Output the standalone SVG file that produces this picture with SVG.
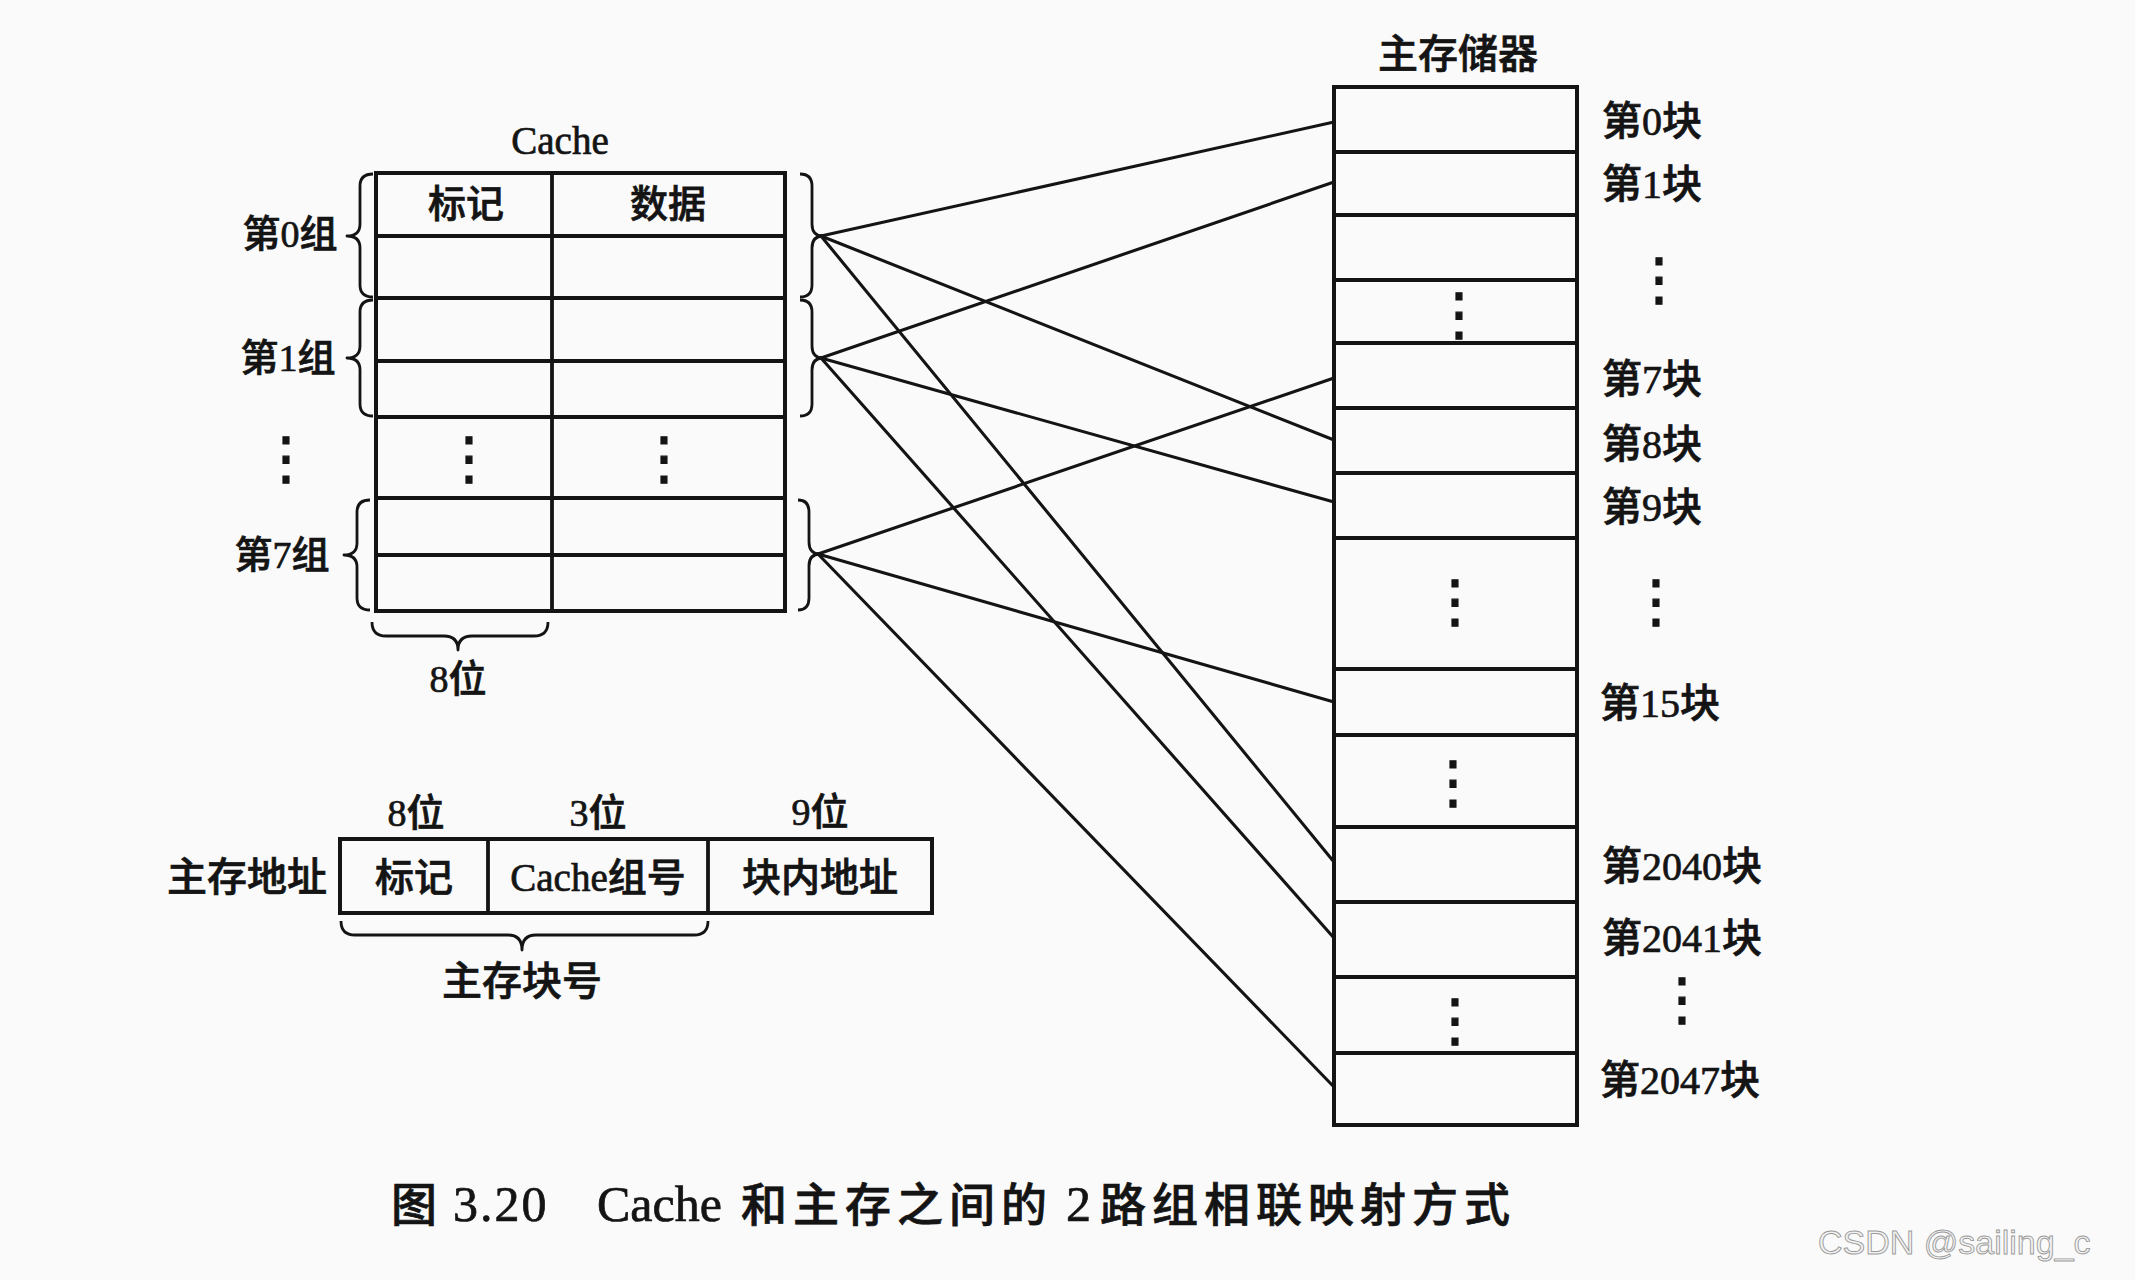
<svg xmlns="http://www.w3.org/2000/svg" width="2135" height="1280" viewBox="0 0 2135 1280">
<style>
  .t { font-family: "Liberation Serif", "Noto Sans CJK SC", serif; fill: #141414; font-weight: 500; stroke: #141414; stroke-width: 0.7; }
  .c { text-anchor: middle; dominant-baseline: central; }
  .l { text-anchor: start; dominant-baseline: central; }
  .box { fill: none; stroke: #141414; stroke-width: 4; }
  .grid { stroke: #141414; stroke-width: 3.8; fill: none; }
  .brace { fill: none; stroke: #141414; stroke-width: 2.8; stroke-linejoin: round; }
  .conn { stroke: #141414; stroke-width: 3.1; fill: none; stroke-linecap: round; }
  .dots { font-family: "DejaVu Sans", sans-serif; font-size: 58px; fill: #141414; stroke: #141414; stroke-width: 1.2; text-anchor: middle; dominant-baseline: central; }
</style>
<rect width="2135" height="1280" fill="#fafafa"/>

<g id="cache">
  <text class="t c" x="560" y="140" font-size="39">Cache</text>
  <rect class="box" x="376" y="173" width="409" height="438"/>
  <path class="grid" d="M552,173 V611 M376,236 H785 M376,298 H785 M376,361 H785 M376,417 H785 M376,498 H785 M376,555 H785"/>
  <text class="t c" x="466" y="204" font-size="38">标记</text>
  <text class="t c" x="668" y="204" font-size="38">数据</text>
  <text class="dots" x="469" y="458">⋮</text>
  <text class="dots" x="664" y="458">⋮</text>
  <text class="dots" x="286" y="458">⋮</text>
  <path class="brace" d="M373,174 Q360,174 360,186 L360,224 Q360,236 347,236 Q360,236 360,248 L360,285 Q360,297 373,297"/>
  <path class="brace" d="M373,300 Q360,300 360,312 L360,346 Q360,358 347,358 Q360,358 360,370 L360,404 Q360,416 373,416"/>
  <path class="brace" d="M370,500 Q357,500 357,512 L357,543 Q357,555 344,555 Q357,555 357,567 L357,598 Q357,610 370,610"/>
  <path class="brace" d="M800,174 Q812,174 812,186 L812,224 Q812,236 823,236 Q812,236 812,248 L812,285 Q812,297 800,297"/>
  <path class="brace" d="M800,300 Q812,300 812,312 L812,346 Q812,358 823,358 Q812,358 812,370 L812,404 Q812,416 800,416"/>
  <path class="brace" d="M798,500 Q809,500 809,512 L809,542 Q809,554 820,554 Q809,554 809,566 L809,598 Q809,610 798,610"/>
  <text class="t c" x="290" y="234" font-size="38">第0组</text>
  <text class="t c" x="288" y="358" font-size="38">第1组</text>
  <text class="t c" x="282" y="555" font-size="38">第7组</text>
  <path class="brace" d="M372,622 Q372,636 386,636 L444,636 Q458,636 458,650 Q458,636 472,636 L534,636 Q548,636 548,622"/>
  <text class="t c" x="458" y="679" font-size="38">8位</text>
</g>

<g id="main-memory">
  <text class="t c" x="1458" y="54" font-size="40">主存储器</text>
  <rect class="box" x="1334" y="87" width="243" height="1038"/>
  <path class="grid" d="M1334,152 H1577 M1334,215 H1577 M1334,280 H1577 M1334,343 H1577 M1334,408 H1577 M1334,473 H1577 M1334,538 H1577 M1334,669 H1577 M1334,735 H1577 M1334,827 H1577 M1334,902 H1577 M1334,977 H1577 M1334,1053 H1577"/>
  <text class="dots" x="1459" y="314">⋮</text>
  <text class="dots" x="1455" y="601">⋮</text>
  <text class="dots" x="1453" y="782">⋮</text>
  <text class="dots" x="1455" y="1020">⋮</text>
  <text class="dots" x="1659" y="279">⋮</text>
  <text class="dots" x="1656" y="601">⋮</text>
  <text class="dots" x="1682" y="999">⋮</text>
  <text class="t l" x="1602" y="121" font-size="40">第0块</text>
  <text class="t l" x="1602" y="184" font-size="40">第1块</text>
  <text class="t l" x="1602" y="379" font-size="40">第7块</text>
  <text class="t l" x="1602" y="444" font-size="40">第8块</text>
  <text class="t l" x="1602" y="507" font-size="40">第9块</text>
  <text class="t l" x="1600" y="703" font-size="40">第15块</text>
  <text class="t l" x="1602" y="866" font-size="40">第2040块</text>
  <text class="t l" x="1602" y="938" font-size="40">第2041块</text>
  <text class="t l" x="1600" y="1080" font-size="40">第2047块</text>
</g>

<g id="connectors">
  <line class="conn" x1="821" y1="236" x2="1334" y2="122"/>
  <line class="conn" x1="821" y1="236" x2="1334" y2="440"/>
  <line class="conn" x1="821" y1="236" x2="1334" y2="862"/>
  <line class="conn" x1="821" y1="358" x2="1334" y2="182"/>
  <line class="conn" x1="821" y1="358" x2="1334" y2="502"/>
  <line class="conn" x1="821" y1="358" x2="1334" y2="938"/>
  <line class="conn" x1="818" y1="554" x2="1334" y2="378"/>
  <line class="conn" x1="818" y1="554" x2="1334" y2="702"/>
  <line class="conn" x1="818" y1="554" x2="1334" y2="1087"/>
</g>

<g id="address">
  <text class="t c" x="247" y="877" font-size="40">主存地址</text>
  <rect class="box" x="340" y="839" width="592" height="74"/>
  <path class="grid" d="M488,839 V913 M708,839 V913"/>
  <text class="t c" x="414" y="877" font-size="39">标记</text>
  <text class="t c" x="598" y="877" font-size="39">Cache组号</text>
  <text class="t c" x="820" y="877" font-size="39">块内地址</text>
  <text class="t c" x="416" y="813" font-size="38">8位</text>
  <text class="t c" x="598" y="813" font-size="38">3位</text>
  <text class="t c" x="820" y="812" font-size="38">9位</text>
  <path class="brace" d="M341,921 Q341,935 355,935 L508,935 Q522,935 522,950 Q522,935 536,935 L694,935 Q708,935 708,921"/>
  <text class="t c" x="522" y="981" font-size="40">主存块号</text>
</g>

<g id="caption">
  <text class="t" y="1221" font-size="46" font-weight="400" stroke-width="0.8"><tspan x="391" letter-spacing="6">图</tspan><tspan x="453" font-size="50" letter-spacing="2">3.20</tspan><tspan x="597" font-size="50">Cache</tspan><tspan x="741" letter-spacing="6">和主存之间的</tspan><tspan x="1066" font-size="50">2</tspan><tspan x="1100" letter-spacing="6">路组相联映射方式</tspan></text>
</g>

<text x="1818" y="1254" font-family="Liberation Sans, sans-serif" font-size="34" fill="#f2f2f2" stroke="#9a9a9a" stroke-width="0.9">CSDN @sailing_c</text>
</svg>
